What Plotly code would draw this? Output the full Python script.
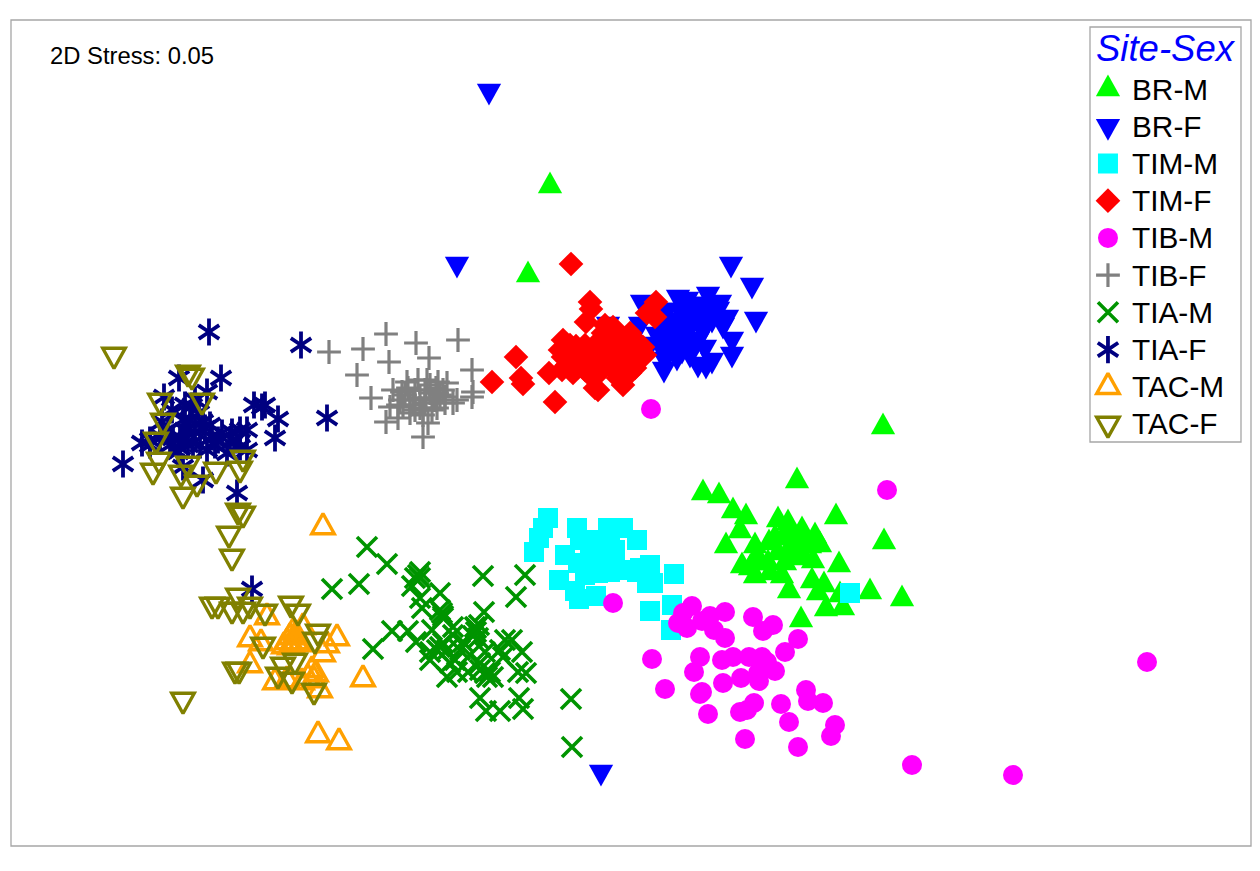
import plotly.graph_objects as go

labels = ["BR-M", "BR-F", "TIM-M", "TIM-F", "TIB-M", "TIB-F", "TIA-M", "TIA-F", "TAC-M", "TAC-F"]

br_m_x = [550,528,883,797,703,719,733,746,740,726,836,884,839,870,902,801,778,788,802,815,820,755,769,783,797,810,803,813,742,755,782,757,768,778,788,812,789,824,818,840,826,843,775,790,805,760,785,795,800,770,750]
br_m_y = [186,275,427,481,493,496,511,517,531,546,517,542,565,592,599,620,520,523,530,536,545,546,543,538,543,546,556,561,566,576,576,556,563,553,551,581,591,585,593,595,609,608,538,533,543,563,563,558,538,573,568]
br_f_x = [489,457,601,731,752,756,642,678,687,708,707,718,727,732,732,664,677,698,706,712,690,670,683,670,687,703,667,680,690,703,723,657,663,690,608,640,700,677,682,695,712,675,698,660,650,665,675,705,720,660,690,710]
br_f_y = [91,264,772,264,285,319,302,297,299,294,304,309,317,339,354,369,357,364,365,360,354,347,337,324,320,320,310,310,307,330,325,334,350,344,324,324,304,320,350,317,319,332,339,322,344,359,342,347,302,337,327,312]
tim_m_x = [548,543,539,534,577,608,623,637,580,565,593,610,578,598,598,610,622,637,650,647,653,559,575,579,596,674,650,672,671,850,590,605,585,615,628,640]
tim_m_y = [518,528,538,552,528,528,528,540,540,555,540,543,563,553,573,572,570,572,565,583,583,580,591,599,596,574,611,605,630,593,550,560,575,550,570,568]
tim_f_x = [571,590,591,586,516,492,521,523,555,549,563,563,576,573,562,567,580,592,595,598,623,630,637,643,630,613,603,597,610,620,607,623,633,656,647,655,617,595,575,585,590,600,605,615,625,605,620,635,612,585,570,560,567,640,628,600,645,635,618]
tim_f_y = [264,302,309,322,357,382,378,384,402,373,340,357,346,373,370,353,360,377,388,390,385,373,357,347,333,327,333,343,347,353,363,363,348,302,313,317,340,355,355,345,365,355,340,355,345,325,335,340,368,370,345,350,365,345,365,372,355,368,378]
tib_m_x = [651,887,613,692,683,710,725,678,687,702,714,725,753,763,773,798,785,652,700,694,722,733,749,762,767,775,723,741,759,758,665,702,700,806,808,823,781,754,747,740,708,789,835,831,745,798,1147,912,1013]
tib_m_y = [409,490,603,606,613,616,612,623,628,621,630,638,617,631,625,639,652,659,657,672,660,657,657,657,662,671,683,678,681,673,689,692,694,690,701,703,704,703,710,712,714,722,725,736,739,747,662,765,775]
tib_f_x = [386,329,363,416,458,429,389,357,472,371,386,398,423,473,472,407,402,393,390,403,413,427,438,430,443,433,445,457,423,428,423,447,437,410,453,400,418,437,425,405,415,420,410,430,435,440,425,415,445,432,398,408,420,426,436]
tib_f_y = [334,352,349,343,340,358,362,375,370,398,422,418,437,392,397,382,392,390,407,407,400,380,382,393,390,400,403,400,410,423,415,383,408,413,403,400,380,393,403,395,390,398,405,385,400,395,390,410,397,410,405,388,408,398,388]
tia_m_x = [367,387,332,359,418,412,420,440,420,422,442,443,483,525,516,484,373,392,408,416,432,453,475,476,478,505,522,430,443,453,463,430,450,485,503,518,526,447,457,468,485,490,493,480,486,500,519,523,571,572,437,440,480,476,473,479,443,440,415,420,447,455,480,487,460,470,500,512]
tia_m_y = [547,564,589,584,575,586,578,593,598,608,613,616,576,575,597,612,649,631,631,642,630,627,627,632,638,640,652,652,643,635,642,660,663,652,657,672,673,677,672,672,673,672,677,698,711,711,698,709,699,747,650,647,663,628,636,625,618,610,578,572,650,660,670,677,650,655,650,640]
tia_f_x = [209,301,179,221,164,207,185,254,265,262,278,275,327,123,142,162,173,190,203,205,180,193,207,222,232,247,230,240,227,247,183,203,237,252,192,199,212,185,170,178,195,215,236,150,160,172,183,195,210,218,240,188,200,168,180,150]
tia_f_y = [332,345,378,378,397,392,405,405,405,407,419,438,418,464,443,422,438,420,422,428,437,443,450,433,432,430,443,447,453,450,467,480,493,589,406,413,437,430,445,452,432,445,440,440,436,410,420,400,425,440,430,445,445,430,448,445]
tac_m_x = [323,363,318,339,290,293,287,296,292,290,296,300,284,312,316,308,314,267,250,261,337,327,323,303,250,275,287,302,320]
tac_m_y = [527,679,735,742,637,632,642,642,645,647,634,644,646,670,674,678,680,617,639,643,638,645,654,627,665,682,680,682,690]
tac_f_x = [114,188,192,160,202,163,156,159,153,188,181,197,216,243,240,183,238,243,229,232,183,238,212,218,232,243,250,265,291,298,318,315,263,235,239,283,295,278,292,314]
tac_f_y = [355,373,376,401,401,421,440,460,471,464,473,483,470,458,469,495,511,514,534,557,700,596,605,605,610,610,605,612,604,612,632,640,645,670,670,665,661,675,680,691]

xs = [br_m_x, br_f_x, tim_m_x, tim_f_x, tib_m_x, tib_f_x, tia_m_x, tia_f_x, tac_m_x, tac_f_x]
ys = [br_m_y, br_f_y, tim_m_y, tim_f_y, tib_m_y, tib_f_y, tia_m_y, tia_f_y, tac_m_y, tac_f_y]
colors = ["#00ff00", "#0000ff", "#00ffff", "#ff0000", "#ff00ff", "#808080", "#009400", "#000080", "#ffa000", "#808000"]
# each glyph: (symbol, size, line width); TIA-F's six-armed star is y-up over y-down
glyphs = [
    [("triangle-up", 21, 0)], [("triangle-down", 21, 0)], [("square", 20, 0)], [("diamond", 19, 0)],
    [("circle", 20, 0)], [("cross-thin", 17, 3.2)], [("x-thin", 20, 3.6)],
    [("y-up", 17, 3.8), ("y-down", 17, 3.8)],
    [("triangle-up-open", 19.5, 3.4)], [("triangle-down-open", 19.5, 3.4)],
]

fig = go.Figure()
for name, x, y, c, gl in zip(labels, xs, ys, colors, glyphs):
    for sym, size, lw in gl:
        fig.add_trace(go.Scatter(x=x, y=y, mode="markers", name=name, showlegend=False,
                                 marker=dict(symbol=sym, size=size, color=c, line=dict(color=c, width=lw))))
        # key entry, same glyph on the key's own category axis
        fig.add_trace(go.Scatter(x=[0.119], y=[name], xaxis="x2", yaxis="y2", mode="markers", name=name,
                                 showlegend=False, hoverinfo="skip",
                                 marker=dict(symbol=sym, size=size, color=c, line=dict(color=c, width=lw))))

FONT = "Liberation Sans"
for name in labels:
    fig.add_annotation(x=0.265, y=name, xref="x2", yref="y2", text=name, showarrow=False, xanchor="left",
                       font=dict(family=FONT, size=29.8, color="#000000"))
fig.add_annotation(x=0.5, y=1.0, xref="x2 domain", yref="y2 domain", text="<i>Site-Sex</i>", showarrow=False,
                   yanchor="bottom", yshift=-1, font=dict(family=FONT, size=36.5, color="#0000ff"))
fig.add_annotation(x=37 / 1240, y=1 - 35 / 826, xref="paper", yref="paper", text="2D Stress: 0.05", showarrow=False,
                   xanchor="left", yanchor="middle", font=dict(family=FONT, size=23.8, color="#000000"))

border = dict(color="#a6a6a6", width=1.3)
fig.add_shape(type="rect", xref="paper", yref="paper", x0=0, x1=1, y0=0, y1=1, line=border)
fig.add_shape(type="rect", xref="paper", yref="paper", x0=1079 / 1240, x1=1230 / 1240,
              y0=(846 - 442) / 826, y1=(846 - 27) / 826, line=border)

hidden = dict(visible=False, showgrid=False, zeroline=False)
fig.update_layout(
    width=1244, height=855, margin=dict(l=3, r=1, t=12, b=17),
    paper_bgcolor="white", plot_bgcolor="white", showlegend=False,
    xaxis=dict(range=[11, 1251], **hidden),
    yaxis=dict(range=[846, 20], **hidden),
    xaxis2=dict(domain=[1079 / 1240, 1230 / 1240], range=[0, 1], anchor="y2", **hidden),
    yaxis2=dict(domain=[(846 - 442.6) / 826, (846 - 70.4) / 826], type="category", categoryorder="array",
                categoryarray=labels, range=[9.5, -0.5], anchor="x2", **hidden),
)

# Plotly's triangle symbols are flatter than the reference's near-equilateral ones: stretch them vertically.
stretch = """
document.getElementById('{plot_id}').querySelectorAll('path.point').forEach(function (p) {
  if (/^M[^H]*H[^L]*L0,[^Z]*Z$/.test(p.getAttribute('d') || '')) {
    p.setAttribute('transform', p.getAttribute('transform') + ' scale(1,1.38)');
    p.setAttribute('vector-effect', 'non-scaling-stroke');
  }
});
"""
fig.write_html("out.html", post_script=stretch)
